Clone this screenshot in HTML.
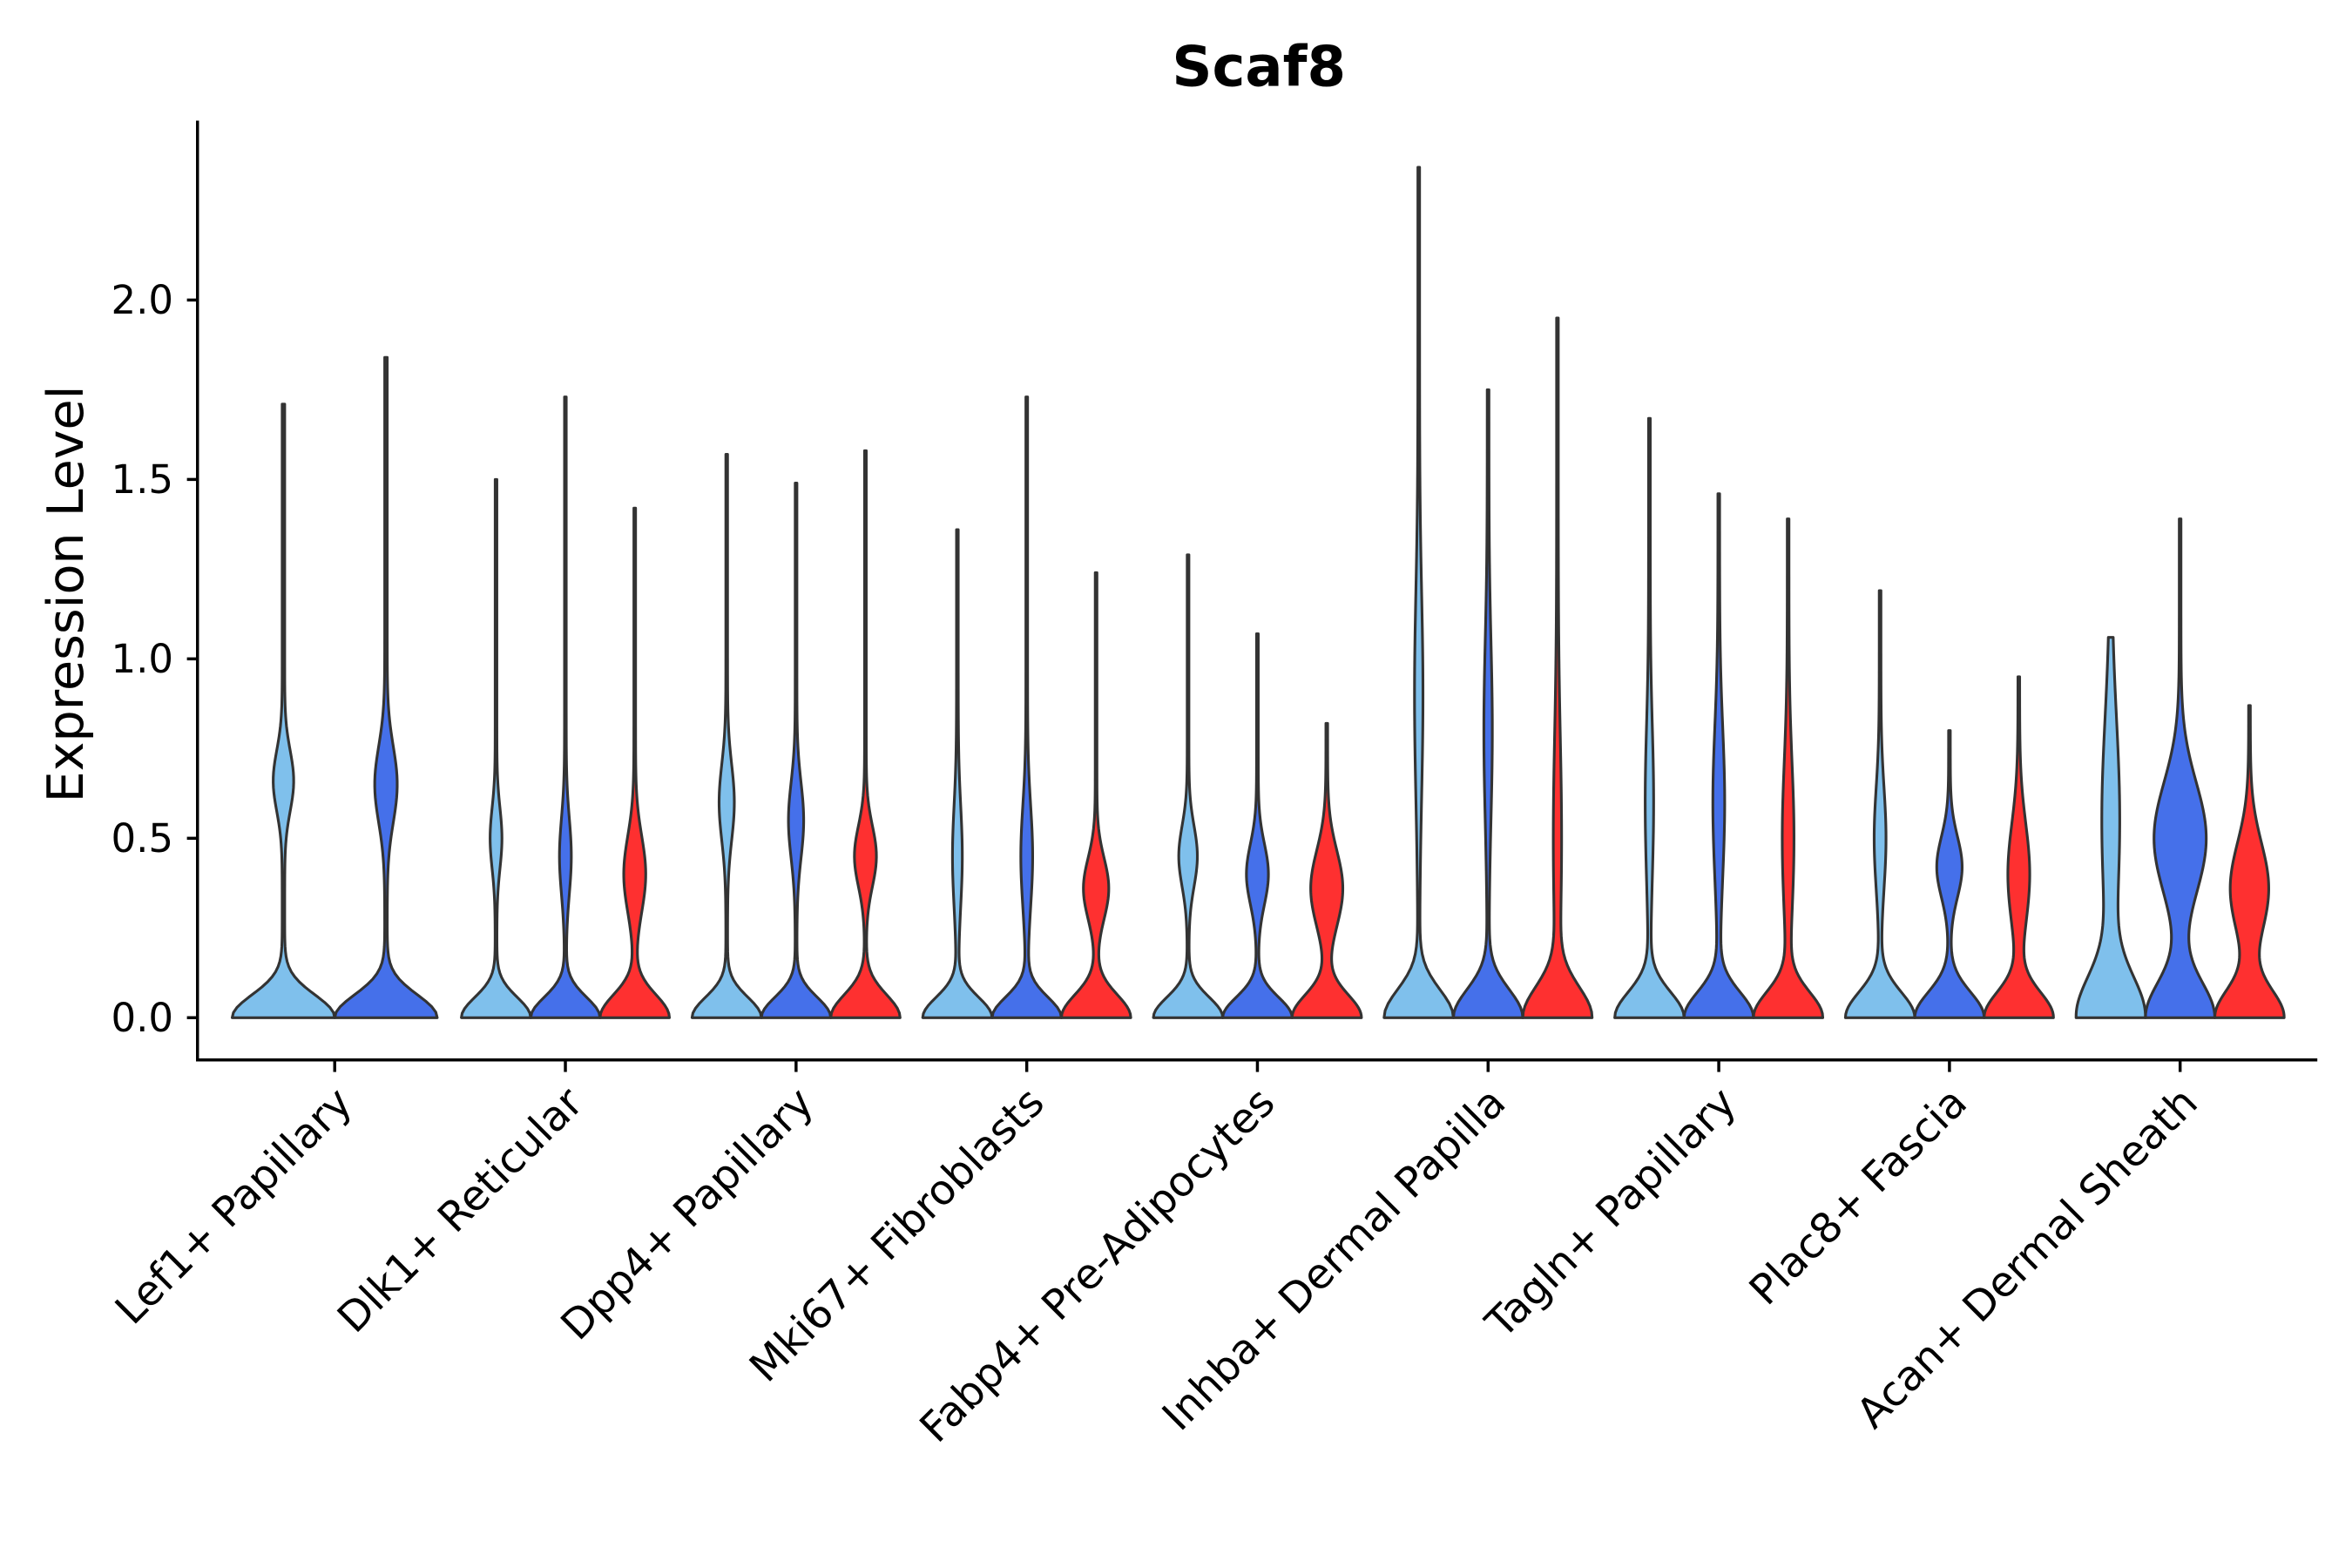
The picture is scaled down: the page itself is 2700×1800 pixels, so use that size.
<!DOCTYPE html>
<html><head><meta charset="utf-8"><style>
html,body{margin:0;padding:0;background:#fff;}
svg{display:block;font-family:"DejaVu Sans","Liberation Sans",sans-serif;}
</style></head><body>
<svg id="chart" width="2700" height="1800" viewBox="0 0 1560 1040" xmlns="http://www.w3.org/2000/svg">
<text x="835" y="57" text-anchor="middle" font-size="37" font-weight="bold">Scaf8</text>
<text transform="translate(55,394) rotate(-90)" text-anchor="middle" font-size="33">Expression Level</text>
<g id="violins"></g>
<g id="axes"></g>
</svg>
<script>
const categories = ["Lef1+ Papillary","Dlk1+ Reticular","Dpp4+ Papillary","Mki67+ Fibroblasts","Fabp4+ Pre-Adipocytes","Inhba+ Dermal Papilla","Tagln+ Papillary","Plac8+ Fascia","Acan+ Dermal Sheath"];
const yTicks = [0, 0.5, 1.0, 1.5, 2.0];
const yTickLabels = ["0.0","0.5","1.0","1.5","2.0"];
// per category: [lightblue, blue, red] (null = absent)
const maxVals = [[1.71,1.84,null],[1.50,1.73,1.42],[1.57,1.49,1.58],[1.36,1.73,1.24],[1.29,1.07,0.82],[2.37,1.75,1.95],[1.67,1.46,1.39],[1.19,0.80,0.95],[1.06,1.39,0.87]];
const modeVals = [[0.66,0.65,null],[0.50,0.45,0.40],[0.60,0.55,0.45],[0.45,0.45,0.36],[0.45,0.40,0.36],[0.90,0.80,0.50],[0.60,0.60,0.50],[0.50,0.42,0.40],[0.55,0.50,0.36]];
const modeWidths = [[0.18,0.20,null],[0.15,0.15,0.30],[0.20,0.20,0.30],[0.12,0.15,0.35],[0.25,0.30,0.45],[0.10,0.10,0.10],[0.10,0.15,0.15],[0.15,0.35,0.30],[0.25,0.75,0.55]];
const modeSpreads = [[0.12,0.15,null],[0.12,0.15,0.15],[0.15,0.15,0.12],[0.2,0.2,0.12],[0.12,0.12,0.15],[0.4,0.35,0.4],[0.3,0.3,0.3],[0.2,0.12,0.2],[0.4,0.22,0.18]];
const baseSpreads = [[0.09,0.09,null],[0.08,0.08,0.09],[0.08,0.08,0.09],[0.08,0.08,0.09],[0.08,0.08,0.09],[0.11,0.11,0.12],[0.1,0.1,0.1],[0.1,0.1,0.1],[0.16,0.14,0.11]];
const colors = ["#7fc0ec","#4570ea","#fe3030"];

const X0=131,X1=1537,Ybot=703,Ytop=80;
function yScale(v){return 675-238*v;}
function xCenter(i){return 222+153*i;}
const NS="http://www.w3.org/2000/svg";
const vg=document.getElementById('violins'), ag=document.getElementById('axes');
function mk(tag,attrs,parent){const e=document.createElementNS(NS,tag);for(const k in attrs)e.setAttribute(k,attrs[k]);parent.appendChild(e);return e;}

categories.forEach((cat,i)=>{
  const present=[0,1,2].filter(k=>maxVals[i][k]!==null);
  const n=present.length;
  const half = n===2?34:23;
  present.forEach((k,j)=>{
    const cx = n===2 ? xCenter(i)+(j===0?-34:34) : xCenter(i)+(j-1)*46;
    const mx=maxVals[i][k], m=modeVals[i][k], w=modeWidths[i][k], ms=modeSpreads[i][k], bs=baseSpreads[i][k];
    const N=120, ds=[];
    for(let s=0;s<=N;s++){
      const v=mx*s/N;
      ds.push(Math.exp(-Math.pow(v/bs,2))+w*Math.exp(-Math.pow((v-m)/ms,2))+0.025);
    }
    const dmax=Math.max(...ds);
    const right=[], left=[];
    for(let s=0;s<=N;s++){
      const v=mx*s/N, d=ds[s]/dmax;
      right.push([cx+half*d,yScale(v)]);
      left.push([cx-half*d,yScale(v)]);
    }
    let p="M"+left[0][0].toFixed(2)+","+left[0][1].toFixed(2);
    for(const q of right) p+="L"+q[0].toFixed(2)+","+q[1].toFixed(2);
    for(let s=N;s>=0;s--) p+="L"+left[s][0].toFixed(2)+","+left[s][1].toFixed(2);
    p+="Z";
    const el=mk('path',{d:p,fill:colors[k],stroke:"#333",'stroke-width':1.8,'stroke-linejoin':'round'},vg);
    
    
  });
});

// axes
let e=mk('line',{x1:X0,y1:Ytop,x2:X0,y2:Ybot+1,stroke:"#000",'stroke-width':2},ag);


e=mk('line',{x1:X0-1,y1:Ybot,x2:X1,y2:Ybot,stroke:"#000",'stroke-width':2},ag);


yTicks.forEach((t,i)=>{
  const y=yScale(t);
  let l=mk('line',{x1:X0-7,y1:y,x2:X0,y2:y,stroke:"#000",'stroke-width':2},ag);
  
  
  let tx=mk('text',{x:X0-16,y:y+9,'text-anchor':'end','font-size':26},ag);
  tx.textContent=yTickLabels[i];
  
  
});
categories.forEach((c,i)=>{
  const x=xCenter(i);
  let l=mk('line',{x1:x,y1:Ybot,x2:x,y2:Ybot+8,stroke:"#000",'stroke-width':2},ag);
  
  
  let tx=mk('text',{transform:'translate('+(x+13)+','+(Ybot+30)+') rotate(-45)','text-anchor':'end','font-size':27.5},ag);
  tx.textContent=c;
  
  
});
</script>
</body></html>
